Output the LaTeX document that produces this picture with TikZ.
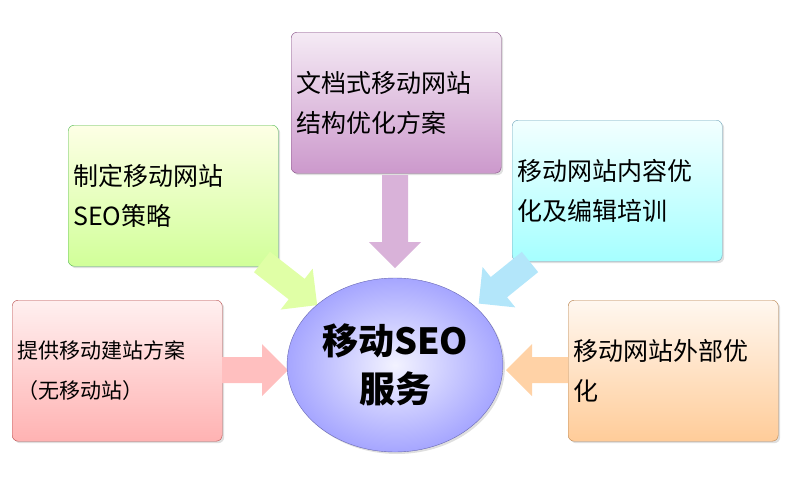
\documentclass[tikz,border=0pt]{standalone}
\usepackage{fontspec}
\setmainfont{Noto Sans CJK SC}
\usetikzlibrary{shapes.geometric,shadows}
\newcommand\fatarrow[5]{% x,y,angle,length,colour
  \begin{scope}[shift={(#1,#2)},rotate=#3]
    \fill[#5] (0,13) -- ({#4-26},13) -- ({#4-26},26) -- (#4,0) -- ({#4-26},-26) -- ({#4-26},-13) -- (0,-13) -- cycle;
  \end{scope}}
\begin{document}
\begin{tikzpicture}[x=1pt,y=-1pt,
  box/.style={draw=#1!60!black!70, rounded corners=6pt, minimum width=210pt, minimum height=141pt, anchor=north west, text width=200pt, align=left, font=\fontsize{25}{40}\selectfont, drop shadow={opacity=0.25,shadow xshift=2pt,shadow yshift=-2pt}}]
\useasboundingbox (0,0) rectangle (800,477);
\node[box=violet, top color=violet!8, bottom color=violet!40] (top) at (291,32) {文档式移动网站\\结构优化方案};
\node[box=green, top color=green!6!yellow!10, bottom color=green!45!yellow!40] (gl) at (68,125) {制定移动网站\\SEO策略};
\node[box=cyan, top color=cyan!5, bottom color=cyan!35] (br) at (512,120) {移动网站内容优\\化及编辑培训};
\node[box=red, top color=red!6, bottom color=red!30, font=\fontsize{21}{40}\selectfont] (pl) at (12,300) {提供移动建站方案\\（无移动站）};
\node[box=orange, top color=orange!6, bottom color=orange!40] (or) at (568,300) {移动网站外部优\\化};
\fatarrow{395}{175}{-90}{93}{violet!30}
\fatarrow{262}{262}{-38}{70}{green!35!yellow!35}
\fatarrow{530}{262}{-141}{66}{cyan!30}
\fatarrow{222}{370}{0}{66}{red!25}
\fatarrow{568}{370}{180}{62}{orange!35}
\node[draw=blue!50!black!60, ellipse, minimum width=170pt, minimum height=174pt, inner color=blue!5, outer color=blue!35, align=center, font=\bfseries\fontsize{36}{48}\selectfont, drop shadow={opacity=0.25,shadow xshift=2pt,shadow yshift=-2pt}] (c) at (395,365) {移动SEO\\服务};
\end{tikzpicture}
\end{document}
